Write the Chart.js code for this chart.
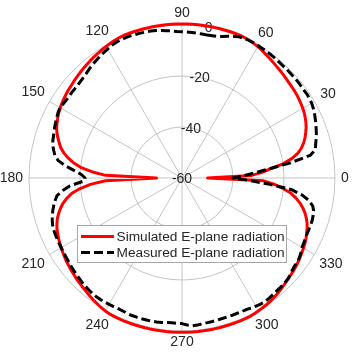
<!DOCTYPE html>
<html>
<head>
<meta charset="utf-8">
<script src="https://cdn.jsdelivr.net/npm/chart.js@4.4.1/dist/chart.umd.min.js"></script>
<style>
html,body{margin:0;padding:0;background:#fff;}
#c{display:block;}
</style>
</head>
<body>
<canvas id="c" width="361" height="358"></canvas>
<script>
// ---- data (dB), one sample every 2 degrees from 0 to 358 ----
const angleStepDeg = 2;
const thetaTicks = [0, 30, 60, 90, 120, 150, 180, 210, 240, 270, 300, 330];
const radialTicks = [-60, -40, -20, 0];
const seriesNames = ['Simulated E-plane radiation', 'Measured E-plane radiation'];

const simulated = [
  -50,-33,-28.5,-25,-20,-16.3,-13.6,-11.8,-10.4,-9.3,
  -8.4,-7.5,-6.8,-6.2,-5.7,-5.3,-5.0,-4.7,-4.4,-4.2,
  -4.0,-3.8,-3.5,-3.2,-2.9,-2.6,-2.2,-1.8,-1.4,-0.9,
  -0.5,-0.2,0.1,0.3,0.4,0.4,0.4,0.4,0.4,0.4,
  0.4,0.4,0.4,0.4,0.4,0.4,0.4,0.4,0.4,0.4,
  0.4,0.4,0.4,0.4,0.4,0.4,0.4,0.3,0.1,-0.2,
  -0.4,-0.7,-1.0,-1.3,-1.6,-1.9,-2.2,-2.5,-2.8,-3.1,
  -3.4,-3.6,-3.9,-4.2,-4.5,-4.9,-5.3,-5.8,-6.4,-7.0,
  -7.8,-8.8,-9.9,-11.0,-12.6,-14.6,-17.0,-20.0,-24.5,-30,
  -50,-30,-24,-19.6,-16.3,-14.1,-12.3,-10.9,-9.7,-8.6,
  -7.8,-7.1,-6.6,-6.1,-5.7,-5.3,-4.9,-4.5,-4.1,-3.8,
  -3.4,-3.1,-2.7,-2.4,-2.1,-1.7,-1.3,-0.9,-0.5,-0.1,
  0.2,0.4,0.5,0.5,0.5,0.5,0.5,0.5,0.5,0.5,
  0.5,0.5,0.5,0.5,0.5,0.5,0.5,0.5,0.5,0.5,
  0.5,0.5,0.5,0.5,0.5,0.5,0.5,0.5,0.5,0.3,
  0.1,-0.1,-0.3,-0.6,-0.9,-1.3,-1.7,-2.1,-2.5,-2.8,
  -3.1,-3.4,-3.8,-4.2,-4.6,-5.0,-5.4,-5.9,-6.5,-7.1,
  -7.8,-8.7,-9.8,-11.1,-12.7,-14.6,-16.8,-20.0,-23.5,-28
];

const measured = [
  -40,-36,-31.5,-25.5,-17,-9,-6.5,-6.0,-5.3,-4.6,
  -4.0,-3.4,-2.8,-2.2,-1.7,-1.3,-1.1,-1.0,-1.1,-1.0,
  -0.9,-0.9,-0.9,-0.8,-0.8,-0.7,-0.5,-0.4,-0.3,-0.2,
  -0.1,0,0,-0.1,-0.3,-0.9,-1.6,-2.3,-2.8,-3.0,
  -3.1,-3.0,-2.9,-2.8,-2.7,-2.6,-2.5,-2.2,-1.9,-1.6,
  -1.3,-1.1,-1.0,-0.9,-0.8,-0.7,-0.7,-0.7,-0.9,-1.2,
  -1.6,-2.0,-2.4,-2.9,-3.3,-3.8,-4.3,-4.7,-5.0,-5.2,
  -5.3,-5.3,-5.3,-5.3,-5.1,-4.8,-5.0,-5.4,-5.8,-6.2,
  -6.6,-7.0,-7.3,-7.8,-8.6,-9.4,-11,-14,-17.5,-20.5,
  -22,-21,-16,-13,-10.5,-9.5,-8.6,-7.8,-7.1,-6.5,
  -6.0,-5.7,-5.6,-5.5,-5.4,-5.3,-5.2,-5.0,-4.8,-4.5,
  -4.2,-4.0,-3.7,-3.4,-3.1,-2.9,-2.7,-2.6,-2.6,-2.7,
  -2.8,-2.9,-3.0,-2.9,-2.7,-2.6,-2.6,-2.6,-2.6,-2.6,
  -2.7,-2.8,-3.0,-3.1,-3.0,-2.9,-2.3,-1.9,-2.0,-2.3,
  -2.4,-2.5,-2.6,-2.7,-2.7,-2.7,-2.7,-2.6,-2.6,-2.3,
  -2.0,-1.7,-1.6,-1.8,-2.0,-2.2,-2.3,-2.4,-2.6,-3.0,
  -3.6,-4.0,-4.0,-4.4,-5.0,-5.6,-5.9,-6.1,-6.3,-6.3,
  -6.3,-6.3,-6.5,-6.8,-7.6,-9.5,-12.5,-17,-26,-34
];

// ---- polar mapping onto Chart.js radial scale ----
// Radar goes clockwise from the start direction; polar angle goes counter-clockwise from east.
// Index 0 is placed at 80 deg (where the r-tick labels sit), so index i <-> theta = 80 - 2*i.
const R_LABEL_ANGLE = 80;
const N = simulated.length;
const thetaOf = i => ((R_LABEL_ANGLE - angleStepDeg * i) % 360 + 360) % 360;
const indexOf = th => (((R_LABEL_ANGLE - th) / angleStepDeg) % N + N) % N;
const labels = [], simData = [], measData = [];
for (let i = 0; i < N; i++) {
  const th = thetaOf(i);
  labels.push(String(th));
  simData.push(simulated[th / angleStepDeg]);
  measData.push(measured[th / angleStepDeg]);
}

const FONT = '14px "Liberation Sans", Arial, Helvetica, sans-serif';
const LEGEND_FONT = '13.7px "Liberation Sans", Arial, Helvetica, sans-serif';
const TEXT = '#262626';

const polarText = {
  id: 'polarText',
  beforeDatasetsDraw(chart) {
    const s = chart.scales.r, ctx = chart.ctx;
    ctx.save();
    ctx.font = FONT;
    ctx.fillStyle = TEXT;
    ctx.textAlign = 'center';
    ctx.textBaseline = 'middle';
    thetaTicks.forEach(a => {
      const txt = String(a);
      const w = ctx.measureText(txt).width, h = 11;
      const rad = a * Math.PI / 180;
      const d = s.drawingArea + 6 + Math.abs(Math.cos(rad)) * w / 2 + Math.abs(Math.sin(rad)) * h / 2;
      const p = s.getPointPosition(indexOf(a), d);
      ctx.fillText(txt, p.x, p.y);
    });
    radialTicks.forEach(v => {
      const p = s.getPointPositionForValue(0, v);
      ctx.fillText(String(v), p.x, p.y + 1);
    });
    ctx.restore();
  }
};

const boxLegend = {
  id: 'boxLegend',
  afterDraw(chart) {
    const ctx = chart.ctx;
    const x0 = 77.5, y0 = 225.5, bw = 209, bh = 37;
    ctx.save();
    ctx.fillStyle = '#ffffff';
    ctx.fillRect(x0, y0, bw, bh);
    ctx.strokeStyle = '#a6a6a6';
    ctx.lineWidth = 1;
    ctx.strokeRect(x0, y0, bw, bh);
    ctx.font = LEGEND_FONT;
    ctx.textAlign = 'left';
    ctx.textBaseline = 'middle';
    const rows = [236.5, 252.5];
    chart.data.datasets.forEach((ds, k) => {
      const y = rows[k];
      ctx.beginPath();
      ctx.setLineDash(ds.borderDash || []);
      ctx.lineWidth = ds.borderWidth;
      ctx.strokeStyle = ds.borderColor;
      ctx.lineCap = 'butt';
      ctx.moveTo(81, y);
      ctx.lineTo(114, y);
      ctx.stroke();
      ctx.setLineDash([]);
      ctx.fillStyle = TEXT;
      ctx.fillText(ds.label, 116.5, y + 0.5);
    });
    ctx.restore();
  }
};

new Chart(document.getElementById('c'), {
  type: 'radar',
  data: {
    labels: labels,
    datasets: [
      {
        label: seriesNames[0],
        data: simData,
        borderColor: '#ff0000',
        borderWidth: 3,
        fill: false,
        pointRadius: 0,
        borderJoinStyle: 'round',
        order: 2
      },
      {
        label: seriesNames[1],
        data: measData,
        borderColor: '#000000',
        borderWidth: 3,
        borderDash: [9, 4],
        fill: false,
        pointRadius: 0,
        borderJoinStyle: 'round',
        order: 1
      }
    ]
  },
  options: {
    responsive: false,
    animation: false,
    devicePixelRatio: 1,
    layout: { padding: { left: 29, right: 26, top: 25, bottom: 27 } },
    plugins: { legend: { display: false }, tooltip: { enabled: false } },
    elements: { line: { tension: 0 }, point: { radius: 0, hoverRadius: 0 } },
    scales: {
      r: {
        min: -60,
        max: 0,
        startAngle: 90 - R_LABEL_ANGLE,
        ticks: { display: false, stepSize: 20 },
        pointLabels: { display: false },
        grid: { circular: true, color: '#c4c4c4', lineWidth: 1 },
        angleLines: {
          display: true,
          color: '#c4c4c4',
          lineWidth: c => (thetaOf(c.index) % 30 === 0 ? 1 : 0)
        }
      }
    }
  },
  plugins: [polarText, boxLegend]
});
</script>
</body>
</html>
